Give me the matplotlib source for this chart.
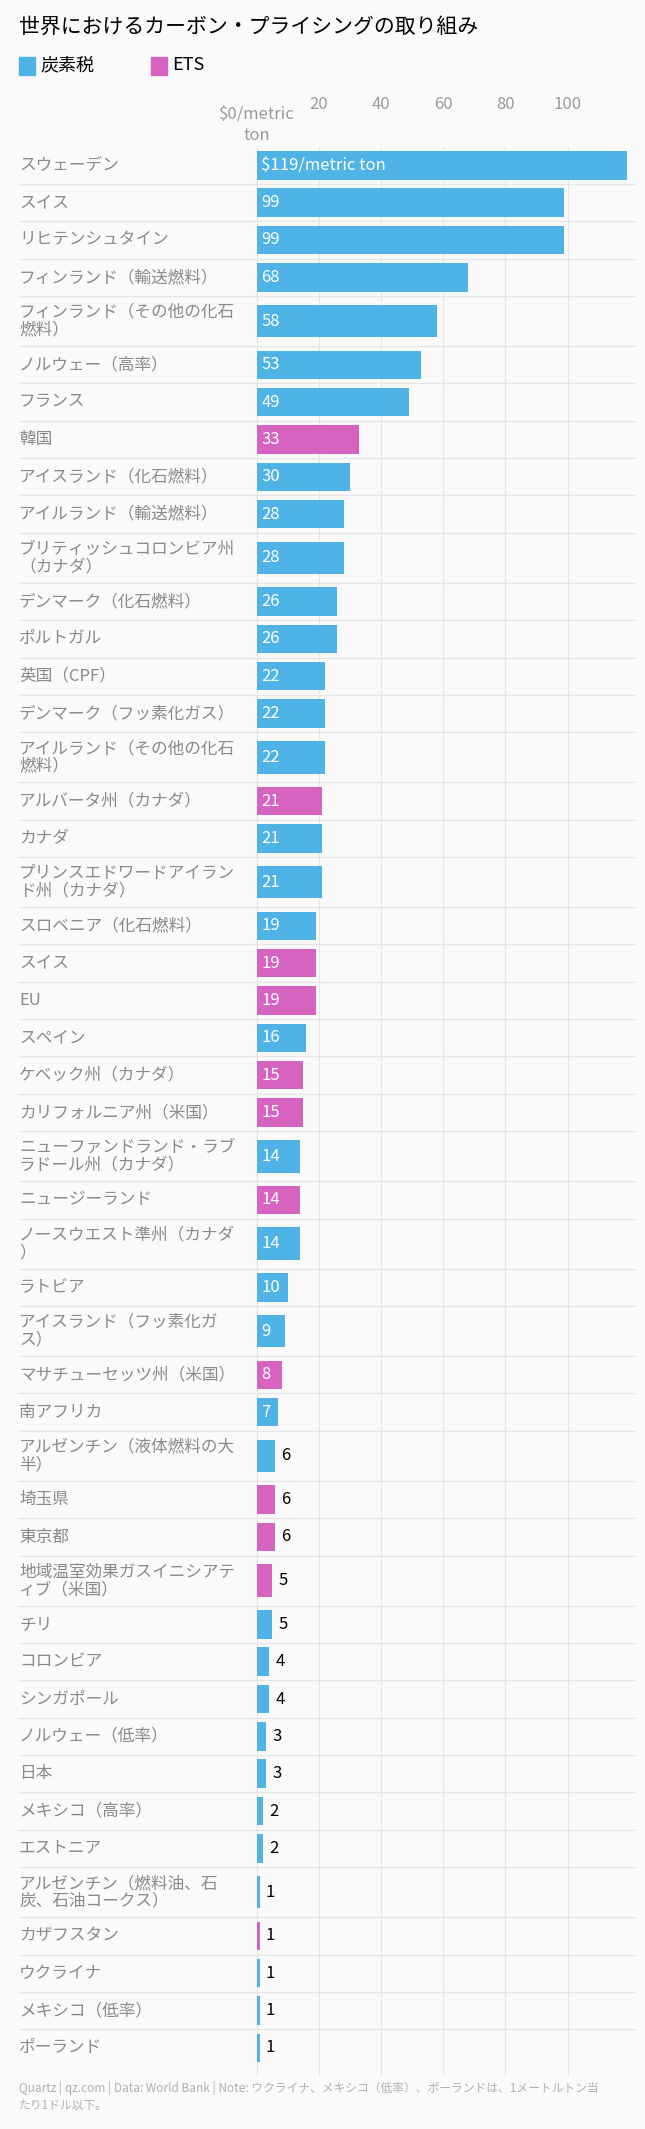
import matplotlib
matplotlib.use("Agg")
import matplotlib.pyplot as plt
import matplotlib.transforms as mtransforms
from matplotlib.patches import Rectangle

plt.rcParams['font.family'] = ['Noto Sans CJK JP', 'DejaVu Sans']

labels = [
    "スウェーデン", "スイス", "リヒテンシュタイン", "フィンランド（輸送燃料）",
    "フィンランド（その他の化石\n燃料）", "ノルウェー（高率）", "フランス", "韓国",
    "アイスランド（化石燃料）", "アイルランド（輸送燃料）",
    "ブリティッシュコロンビア州\n（カナダ）", "デンマーク（化石燃料）", "ポルトガル",
    "英国（CPF）", "デンマーク（フッ素化ガス）", "アイルランド（その他の化石\n燃料）",
    "アルバータ州（カナダ）", "カナダ", "プリンスエドワードアイラン\nド州（カナダ）",
    "スロベニア（化石燃料）", "スイス", "EU", "スペイン", "ケベック州（カナダ）",
    "カリフォルニア州（米国）", "ニューファンドランド・ラブ\nラドール州（カナダ）",
    "ニュージーランド", "ノースウエスト準州（カナダ\n）", "ラトビア",
    "アイスランド（フッ素化ガ\nス）", "マサチューセッツ州（米国）", "南アフリカ",
    "アルゼンチン（液体燃料の大\n半）", "埼玉県", "東京都",
    "地域温室効果ガスイニシアテ\nィブ（米国）", "チリ", "コロンビア", "シンガポール",
    "ノルウェー（低率）", "日本", "メキシコ（高率）", "エストニア",
    "アルゼンチン（燃料油、石\n炭、石油コークス）", "カザフスタン", "ウクライナ",
    "メキシコ（低率）", "ポーランド",
]
values = [119, 99, 99, 68, 58, 53, 49, 33, 30, 28, 28, 26, 26, 22, 22, 22, 21, 21, 21,
          19, 19, 19, 16, 15, 15, 14, 14, 14, 10, 9, 8, 7, 6, 6, 6, 5, 5, 4, 4, 3, 3,
          2, 2, 1, 1, 1, 1, 1]
kinds = ["tax", "tax", "tax", "tax", "tax", "tax", "tax", "ets", "tax", "tax", "tax",
         "tax", "tax", "tax", "tax", "tax", "ets", "tax", "tax", "tax", "ets", "ets",
         "tax", "ets", "ets", "tax", "ets", "tax", "tax", "tax", "ets", "tax", "tax",
         "ets", "ets", "ets", "tax", "tax", "tax", "tax", "tax", "tax", "tax", "tax",
         "ets", "tax", "tax", "tax"]
ticks = [0, 20, 40, 60, 80, 100]
tick_labels = ["$0/metric\nton", "20", "40", "60", "80", "100"]

colors = {"tax": "#4fb3e6", "ets": "#d663bf"}
bg = "#fafafa"

# layout in reference "display" pixels (475 x 1568)
W, H = 475.0, 1568.0
x0, x1 = 189.0, 475.0
ppu = 2.29
top, bottom = 108.0, 1522.0

fig = plt.figure(figsize=(6.45, 21.29), dpi=100, facecolor=bg)
ax = fig.add_axes([x0 / W, 1 - bottom / H, (x1 - x0) / W, (bottom - top) / H])
ax.set_facecolor(bg)
ax.set_xlim(0, (x1 - x0) / ppu)
ax.set_ylim(bottom, top)
for s in ax.spines.values():
    s.set_visible(False)
ax.set_xticks([])
ax.set_yticks([])

single, double = 27.5, 36.9
y = top
trans = mtransforms.blended_transform_factory(ax.transAxes, ax.transData)
lx0 = (14 - x0) / (x1 - x0)
lx1 = (468 - x0) / (x1 - x0)
for i, (lab, v, k) in enumerate(zip(labels, values, kinds)):
    h = double if "\n" in lab else single
    yc = y + h / 2
    bh = 21 if h == single else 24
    ax.barh(yc, v, height=bh, color=colors[k], zorder=2)
    ax.text(lx0, yc, lab, transform=trans, ha="left", va="center", fontsize=12,
            color="#8a8a8a", linespacing=1.05)
    txt = "$119/metric ton" if i == 0 else str(v)
    if v >= 7:
        ax.text(1.5, yc, txt, ha="left", va="center", fontsize=12, color="white", zorder=3)
    else:
        ax.text(v + 2, yc, txt, ha="left", va="center", fontsize=12, color="black", zorder=3)
    if i > 0:
        ax.plot([lx0, lx1], [y, y], transform=trans, color="#e6e6e6", lw=1,
                clip_on=False, zorder=1)
    y += h

for t in ticks:
    ax.plot([t, t], [top, bottom + 6], color="#e6e6e6", lw=0.8, zorder=0, clip_on=False)
for t, tl in zip(ticks, tick_labels):
    ax.text(t, 92 if t == 0 else 77, tl, ha="center", va="center", fontsize=12,
            color="#9a9a9a", linespacing=1.3)

fig.text(14 / W, 1 - 20 / H, "世界におけるカーボン・プライシングの取り組み",
         fontsize=15, ha="left", va="center", color="black")
fig.patches.append(Rectangle((14 / W, 1 - 55 / H), 12 / W, 13 / H,
                             transform=fig.transFigure, color=colors["tax"]))
fig.text(30 / W, 1 - 48 / H, "炭素税", fontsize=13, ha="left", va="center")
fig.patches.append(Rectangle((111 / W, 1 - 55 / H), 12 / W, 13 / H,
                             transform=fig.transFigure, color=colors["ets"]))
fig.text(127 / W, 1 - 48 / H, "ETS", fontsize=13, ha="left", va="center")

fig.text(14 / W, 1 - 1544 / H,
         "Quartz | qz.com | Data: World Bank | Note: ウクライナ、メキシコ（低率）、ポーランドは、1メートルトン当\nたり1ドル以下。",
         fontsize=8.5, ha="left", va="center", color="#b0b0b0", linespacing=1.3)

fig.savefig("out.png", dpi=100, facecolor=bg)
